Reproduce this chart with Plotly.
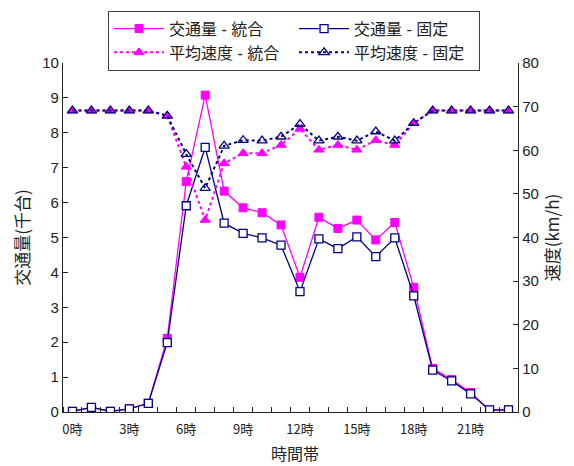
import plotly.graph_objects as go

hours = list(range(24))
tick_vals = [0, 3, 6, 9, 12, 15, 18, 21]
tick_text = ["0時", "3時", "6時", "9時", "12時", "15時", "18時", "21時"]

vol_integrated = [0.02, 0.13, 0.02, 0.09, 0.25, 2.11, 6.6, 9.08, 6.33, 5.85, 5.71, 5.36,
                  3.86, 5.58, 5.26, 5.50, 4.93, 5.43, 3.57, 1.25, 0.93, 0.56, 0.05, 0.06]
vol_fixed = [0.02, 0.13, 0.02, 0.09, 0.25, 1.99, 5.91, 7.58, 5.41, 5.12, 4.99, 4.78,
             3.45, 4.96, 4.68, 5.02, 4.45, 4.99, 3.33, 1.20, 0.89, 0.52, 0.06, 0.06]
spd_integrated = [69.1, 69.1, 69.1, 69.1, 69.1, 67.9, 56.2, 44.0, 57.0, 59.3, 59.3, 61.2,
                  64.9, 60.1, 61.2, 60.1, 62.3, 61.2, 66.2, 69.1, 69.1, 69.1, 69.1, 69.1]
spd_fixed = [69.1, 69.1, 69.1, 69.1, 69.1, 67.9, 59.1, 51.3, 61.0, 62.3, 62.2, 63.1,
             66.0, 62.2, 63.1, 62.2, 64.3, 62.2, 66.2, 69.1, 69.1, 69.1, 69.1, 69.1]

MAG = "#FF00FF"
NAVY = "#000080"

fig = go.Figure()
fig.add_trace(go.Scatter(x=hours, y=vol_integrated, name="交通量 - 統合", mode="lines+markers",
                         line=dict(color=MAG, width=1.3),
                         marker=dict(symbol="square", size=8, color=MAG, line=dict(color=MAG, width=1))))
fig.add_trace(go.Scatter(x=hours, y=vol_fixed, name="交通量 - 固定", mode="lines+markers",
                         line=dict(color=NAVY, width=1.3),
                         marker=dict(symbol="square", size=8, color="white", line=dict(color=NAVY, width=1.3))))
fig.add_trace(go.Scatter(x=hours, y=spd_integrated, name="平均速度 - 統合", mode="lines+markers", yaxis="y2",
                         line=dict(color=MAG, width=2, dash="dot"),
                         marker=dict(symbol="triangle-up", size=9, color=MAG, line=dict(color=MAG, width=1))))
fig.add_trace(go.Scatter(x=hours, y=spd_fixed, name="平均速度 - 固定", mode="lines+markers", yaxis="y2",
                         line=dict(color=NAVY, width=2, dash="dot"),
                         marker=dict(symbol="triangle-up-open", size=9, color=NAVY, line=dict(color=NAVY, width=1.3))))

font_family = "Liberation Sans, Arial, Noto Sans CJK JP"

fig.update_layout(
    width=574, height=466,
    margin=dict(l=63, r=56, t=63, b=54, autoexpand=False),
    paper_bgcolor="white", plot_bgcolor="white",
    font=dict(family=font_family, size=14, color="#222222"),
    showlegend=True,
    legend=dict(orientation="h", x=0.099, xanchor="left", y=1.15, yanchor="top",
                entrywidth=120, entrywidthmode="pixels", itemwidth=50,
                bordercolor="#404040", borderwidth=1, bgcolor="white",
                font=dict(size=16, family="Liberation Sans, Noto Sans CJK JP"),
                tracegroupgap=0),
    xaxis=dict(range=[-0.5, 23.5], tickmode="array", tickvals=tick_vals, ticktext=tick_text,
               ticks="", showline=True, linecolor="#222222", linewidth=1.3, showgrid=False,
               zeroline=False, mirror=False, ticklabelstandoff=5, automargin=False,
               minor=dict(tickmode="linear", tick0=0.5, dtick=1, ticks="inside", ticklen=5,
                          tickcolor="#222222", showgrid=False),
               tickfont=dict(size=13, family="Noto Sans CJK JP, Liberation Sans")),
    yaxis=dict(range=[0, 10], dtick=1, ticks="inside", ticklen=5, tickcolor="#222222",
               showline=True, linecolor="#222222", linewidth=1.3, showgrid=False, zeroline=False,
               tickfont=dict(size=15), automargin=False,
               title=dict(text="交通量(千台)", font=dict(size=17, family="Noto Sans CJK JP"), standoff=8)),
    yaxis2=dict(range=[0, 80], dtick=10, overlaying="y", side="right", ticks="inside", ticklen=5,
                tickcolor="#222222", showline=True, linecolor="#222222", linewidth=1.3,
                showgrid=False, zeroline=False, tickfont=dict(size=15), automargin=False,
                title=dict(text="速度(km/h)", font=dict(size=17, family="Noto Sans CJK JP"), standoff=4)),
    annotations=[dict(text="時間帯", xref="paper", yref="paper", x=0.51, y=-0.118,
                      xanchor="center", yanchor="middle", showarrow=False,
                      font=dict(size=16, family="Noto Sans CJK JP", color="#222222"))],
)

fig.write_html("out.html")
